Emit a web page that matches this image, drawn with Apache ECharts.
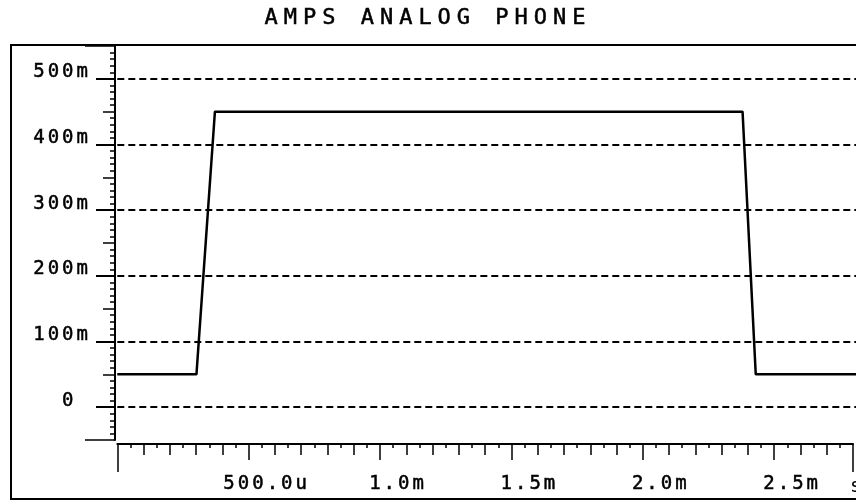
<!DOCTYPE html>
<html>
<head>
<meta charset="utf-8">
<script src="https://cdn.jsdelivr.net/npm/echarts@6/dist/echarts.min.js"></script>
<style>
  html, body { margin: 0; padding: 0; background: #fff; }
  #chart { width: 856px; height: 501px; }
</style>
</head>
<body>
<div id="chart"></div>
<script>
// waveform corners: time in ms, level in V
var timeMs = [0, 0.30, 0.37, 2.37, 2.42, 2.8];
var level = [0.05, 0.05, 0.45, 0.45, 0.05, 0.05];

// tick labels
var yTickValues = [0, 0.1, 0.2, 0.3, 0.4, 0.5];
var yTickLabels = ['0 ', '100m', '200m', '300m', '400m', '500m'];
var xTickValues = [0, 0.5, 1.0, 1.5, 2.0, 2.5];
var xTickLabels = ['', '500.0u', '1.0m', '1.5m', '2.0m', '2.5m'];

var FONT = 'DejaVu Sans Mono';
var X_LEFT = 117.3;
var X_RIGHT = -8.3;

// plotter lettering is widely spaced, canvas letterSpacing gives that look
var nativeFillText = CanvasRenderingContext2D.prototype.fillText;
var nativeStrokeText = CanvasRenderingContext2D.prototype.strokeText;
function spacing(ctx) {
  var m = /(\d+(?:\.\d+)?)px/.exec(ctx.font);
  var size = m ? parseFloat(m[1]) : 12;
  ctx.letterSpacing = size > 20 ? '6px' : '3px';
}
CanvasRenderingContext2D.prototype.fillText = function () {
  spacing(this);
  return nativeFillText.apply(this, arguments);
};
CanvasRenderingContext2D.prototype.strokeText = function () {
  spacing(this);
  return nativeStrokeText.apply(this, arguments);
};

function pick(values, labels) {
  return function (v) {
    for (var i = 0; i < values.length; i++) {
      if (Math.abs(values[i] - v) < 1e-6) return labels[i];
    }
    return '';
  };
}

// left scale ticks (grid 0)
function yScale(len, interval, showLine) {
  return {
    gridIndex: 0, type: 'value', position: 'left',
    min: -0.05, max: 0.55, interval: interval,
    axisLine: { show: showLine, onZero: false, lineStyle: { color: '#000', width: 2 } },
    axisTick: { length: len, lineStyle: { color: '#000', width: 1.5 } },
    axisLabel: { show: false },
    splitLine: { show: false }
  };
}

// bottom scale ticks (grid 2)
function xScale(len, interval, showLine, label) {
  return {
    gridIndex: 2, type: 'value', position: 'bottom',
    min: 0, max: 2.8, interval: interval,
    axisLine: { show: showLine, onZero: false, lineStyle: { color: '#000', width: 2 } },
    axisTick: { length: len, lineStyle: { color: '#000', width: 1.5 } },
    axisLabel: label || { show: false },
    splitLine: { show: false }
  };
}

var chart = echarts.init(document.getElementById('chart'));

var option = {
  animation: false,
  backgroundColor: '#fff',
  title: {
    text: 'AMPS ANALOG PHONE',
    left: 'center',
    top: 7.6,
    padding: [0, 0, 0, 10],
    textStyle: {
      fontFamily: FONT, fontSize: 22, fontWeight: 'normal', color: '#000',
      textBorderColor: '#000', textBorderWidth: 0.5
    }
  },
  grid: [
    { left: 115, right: X_RIGHT, top: 46, bottom: 61 },
    { left: X_LEFT, right: X_RIGHT, top: 78.8, bottom: 93.8 },
    { left: X_LEFT, right: X_RIGHT, top: 46, bottom: 57 }
  ],
  xAxis: [
    { gridIndex: 0, type: 'value', show: false, min: 0, max: 2.8 },
    { gridIndex: 1, type: 'value', show: false, min: 0, max: 2.8 },
    xScale(4, 0.05, true),
    xScale(11, 0.1, false),
    xScale(16, 0.5, false, {
      formatter: pick(xTickValues, xTickLabels),
      margin: 31,
      padding: [0, 0, 0, 36],
      color: '#000',
      textBorderColor: '#000',
      textBorderWidth: 0.5,
      fontFamily: FONT,
      fontSize: 19
    }),
    xScale(28, 2.8, false)
  ],
  yAxis: [
    yScale(5, 0.01, true),
    yScale(12, 0.05, false),
    yScale(30, 0.6, false),
    {
      gridIndex: 1, type: 'value', position: 'left', offset: 2.3,
      min: 0, max: 0.5, interval: 0.1,
      axisLine: { show: false, onZero: false },
      axisTick: { length: 19, lineStyle: { color: '#000', width: 2 } },
      axisLabel: {
        formatter: pick(yTickValues, yTickLabels),
        margin: 24,
        verticalAlign: 'bottom',
        lineHeight: 13,
        color: '#000',
        textBorderColor: '#000',
        textBorderWidth: 0.5,
        fontFamily: FONT,
        fontSize: 19
      },
      splitLine: { show: true, lineStyle: { color: '#000', width: 2, type: [7, 4] } }
    },
    { gridIndex: 2, type: 'value', show: false, min: -0.05, max: 0.55 }
  ],
  graphic: [
    {
      type: 'rect', z: -1,
      shape: { x: 11, y: 45, width: 870, height: 454 },
      style: { fill: null, stroke: '#000', lineWidth: 2 }
    },
    {
      type: 'text', x: 850, y: 478,
      style: { text: 's', fill: '#000', font: '19px "DejaVu Sans Mono"' }
    }
  ],
  series: [
    {
      type: 'line',
      xAxisIndex: 1,
      yAxisIndex: 3,
      symbol: 'none',
      lineStyle: { color: '#000', width: 2.5 },
      data: timeMs.map(function (t, i) { return [t, level[i]]; })
    }
  ]
};

chart.setOption(option);
</script>
</body>
</html>
